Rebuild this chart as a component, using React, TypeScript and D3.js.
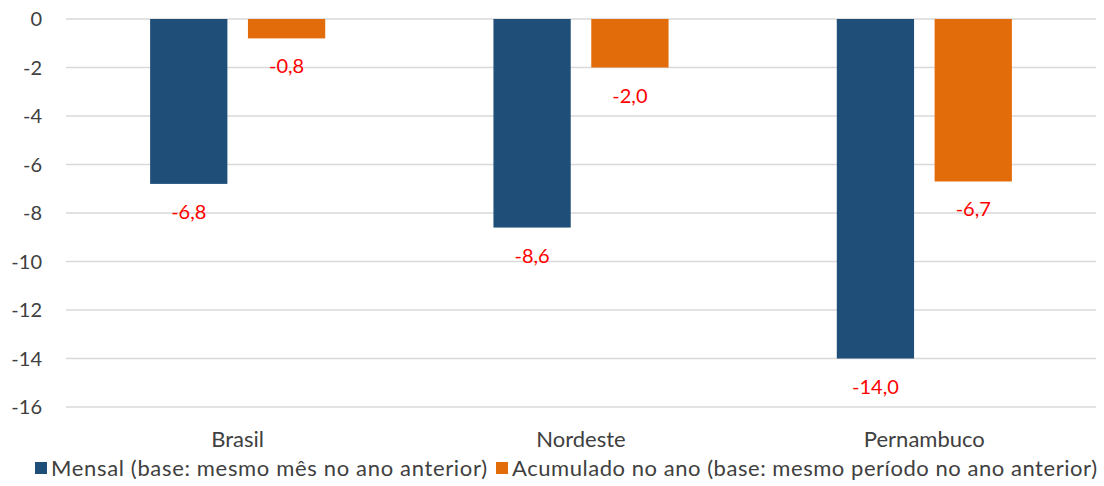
import React from "react";
import * as d3 from "d3";

const categories = ["Brasil", "Nordeste", "Pernambuco"];
const mensal = [-6.8, -8.6, -14.0];
const acumulado = [-0.8, -2.0, -6.7];
const yTicks = [0, -2, -4, -6, -8, -10, -12, -14, -16];
const seriesNames = [
  "Mensal (base: mesmo mês no ano anterior)",
  "Acumulado no ano (base: mesmo período no ano anterior)",
];
const colors = ["#1F4E79", "#E36C0A"];

const W = 1104;
const H = 486;
const left = 66;
const right = 1096;
const top = 19;
const bottom = 407;
const font = "Lato, 'Open Sans', sans-serif";
const fs = 20;

export default function App() {
  const x0 = d3.scaleBand().domain(categories).range([left, right]).paddingInner(0.49).paddingOuter(0.245);
  const x1 = d3.scaleBand().domain(["m", "a"]).range([0, x0.bandwidth()]).paddingInner(0.21);
  const y = d3.scaleLinear().domain([0, -16]).range([top, bottom]);
  const fmt = (v: number) => v.toFixed(1).replace(".", ",");
  const series = [mensal, acumulado];
  const keys = ["m", "a"];
  return (
    <svg width={W} height={H} style={{ position: "absolute", left: 0, top: 0, fontFamily: font }}>
      <rect width={W} height={H} fill="#fff" />
      {yTicks.map((t) => (
        <g key={t}>
          <line x1={left} x2={right} y1={y(t)} y2={y(t)} stroke="#D9D9D9" strokeWidth={1.5} />
          <text x={42} y={y(t)} dy="0.35em" textAnchor="end" fontSize={fs} fill="#404040">
            {t}
          </text>
        </g>
      ))}
      {categories.map((c, i) => (
        <g key={c}>
          {series.map((s, j) => {
            const bx = (x0(c) as number) + (x1(keys[j]) as number);
            const bw = x1.bandwidth();
            return (
              <g key={j}>
                <rect x={bx} y={y(0)} width={bw} height={y(s[i]) - y(0)} fill={colors[j]} />
                <text x={bx + bw / 2} y={y(s[i]) + 28} dy="0.35em" textAnchor="middle" fontSize={fs} fill="#FF0000">
                  {fmt(s[i])}
                </text>
              </g>
            );
          })}
          <text x={(x0(c) as number) + x0.bandwidth() / 2} y={439} dy="0.35em" textAnchor="middle" fontSize={22} fill="#404040">
            {c}
          </text>
        </g>
      ))}
      <g>
        <rect x={35} y={462} width={12} height={12} fill={colors[0]} />
        <text x={51} y={468} dy="0.35em" fontSize={22} fill="#404040" textLength={436} lengthAdjust="spacing">{seriesNames[0]}</text>
        <rect x={496} y={462} width={12} height={12} fill={colors[1]} />
        <text x={512} y={468} dy="0.35em" fontSize={22} fill="#404040" textLength={585} lengthAdjust="spacing">{seriesNames[1]}</text>
      </g>
    </svg>
  );
}
